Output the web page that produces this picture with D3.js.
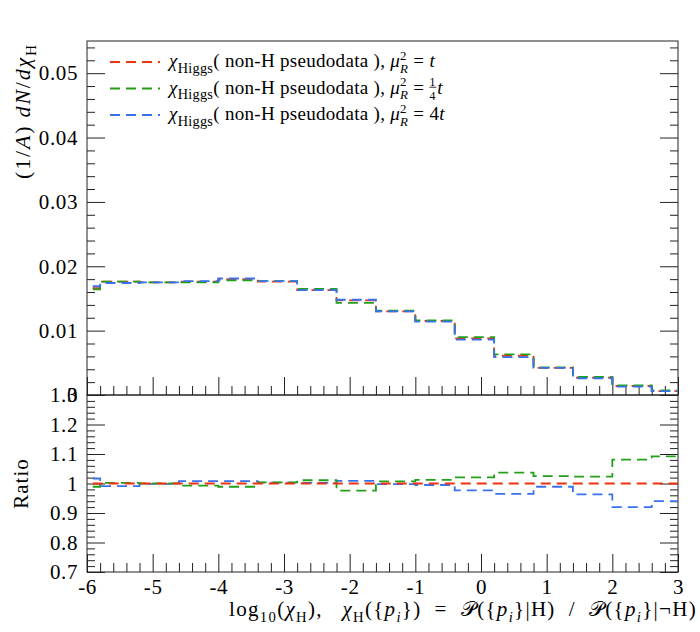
<!DOCTYPE html>
<html>
<head>
<meta charset="utf-8">
<script src="https://cdn.jsdelivr.net/npm/d3@7/dist/d3.min.js"></script>
<style>
  html, body { margin: 0; padding: 0; background: #fff; }
  svg { display: block; }
  svg text { font-family: "Liberation Serif", "DejaVu Serif", serif; white-space: pre; fill: #000; }
</style>
</head>
<body>
<svg id="chart" width="700" height="632"></svg>
<script>
// bin edges in log10(chi_H)
const binEdges = [-6.4, -5.8, -5.2, -4.6, -4.0, -3.4, -2.8, -2.2, -1.6, -1.0, -0.4, 0.2, 0.8, 1.4, 2.0, 2.6, 3.2];

// (1/A) dN/dchi_H, one value per bin
const mainRed   = [0.0166, 0.0176, 0.0175, 0.0176, 0.0180, 0.0176, 0.0163, 0.0147, 0.0130, 0.0115, 0.0088, 0.0061, 0.0042, 0.0027, 0.0014, 0.0006];
const mainGreen = [0.0164, 0.0176, 0.0175, 0.0175, 0.0178, 0.0177, 0.0165, 0.0143, 0.0131, 0.0116, 0.0090, 0.0063, 0.0043, 0.0028, 0.0015, 0.0007];
const mainBlue  = [0.0169, 0.0174, 0.0175, 0.0177, 0.0181, 0.0177, 0.0163, 0.0148, 0.0130, 0.0114, 0.0086, 0.0059, 0.0042, 0.0026, 0.0013, 0.0006];

// ratio to the mu_R^2 = t curve
const ratioRed   = [1, 1, 1, 1, 1, 1, 1, 1, 1, 1, 1, 1, 1, 1, 1, 1];
const ratioGreen = [0.989, 1.002, 1.000, 0.993, 0.989, 1.004, 1.011, 0.976, 1.007, 1.012, 1.021, 1.037, 1.025, 1.023, 1.081, 1.092];
const ratioBlue  = [1.017, 0.991, 0.999, 1.008, 1.008, 1.003, 1.002, 1.009, 0.998, 0.995, 0.977, 0.965, 0.989, 0.963, 0.920, 0.940];

const xTicks = [-6, -5, -4, -3, -2, -1, 0, 1, 2, 3];
const yMainTicks = [0, 0.01, 0.02, 0.03, 0.04, 0.05];
const yRatioTicks = [0.7, 0.8, 0.9, 1.0, 1.1, 1.2, 1.3];

const colors = { red: "#ee3311", green: "#22a01a", blue: "#3a70f2" };

const L = 87, R = 678, T = 41, MID = 395, B = 572;
const FONT = 21;

const svg = d3.select("#chart");

const x = d3.scaleLinear().domain([-6, 3]).range([L, R]);
const yMain = d3.scaleLinear().domain([0, 0.055]).range([MID, T]);
const yRatio = d3.scaleLinear().domain([0.7, 1.3]).range([B, MID]);

const minorX = d3.range(-6, 3.001, 0.2).map(v => +v.toFixed(1)).filter(v => Math.abs(v - Math.round(v)) > 1e-6);
const minorYMain = d3.range(0, 0.0551, 0.002).map(v => +v.toFixed(3)).filter(v => Math.abs(v * 100 - Math.round(v * 100)) > 1e-6);
const minorYRatio = d3.range(0.7, 1.3001, 0.02).map(v => +v.toFixed(2)).filter(v => Math.abs(v * 10 - Math.round(v * 10)) > 1e-6);

// clip paths
const defs = svg.append("defs");
defs.append("clipPath").attr("id", "clipMain")
  .append("rect").attr("x", L).attr("y", T).attr("width", R - L).attr("height", MID - T);
defs.append("clipPath").attr("id", "clipRatio")
  .append("rect").attr("x", L).attr("y", MID).attr("width", R - L).attr("height", B - MID);

function styleAxis(g) {
  g.attr("font-family", null).attr("font-size", null);
  g.select(".domain").remove();
  g.selectAll(".tick line").attr("stroke", "#222").attr("stroke-width", 1);
  g.selectAll(".tick text").attr("font-size", FONT).attr("fill", "#000").attr("letter-spacing", 0.6);
}

function yAxes(scale, major, minor, fmt) {
  svg.append("g").attr("transform", `translate(${L},0)`)
    .call(d3.axisLeft(scale).tickValues(major).tickSize(-18).tickPadding(9).tickFormat(fmt))
    .call(styleAxis);
  svg.append("g").attr("transform", `translate(${L},0)`)
    .call(d3.axisLeft(scale).tickValues(minor).tickSize(-8).tickFormat(""))
    .call(styleAxis);
  svg.append("g").attr("transform", `translate(${R},0)`)
    .call(d3.axisRight(scale).tickValues(major).tickSize(-18).tickFormat(""))
    .call(styleAxis);
  svg.append("g").attr("transform", `translate(${R},0)`)
    .call(d3.axisRight(scale).tickValues(minor).tickSize(-8).tickFormat(""))
    .call(styleAxis);
}

function xAxes(yPos, labels) {
  svg.append("g").attr("transform", `translate(0,${yPos})`)
    .call(d3.axisBottom(x).tickValues(xTicks).tickSize(-18).tickPadding(7)
      .tickFormat(labels ? (d => d < 0 ? "-" + Math.abs(d) : "" + d) : ""))
    .call(styleAxis);
  svg.append("g").attr("transform", `translate(0,${yPos})`)
    .call(d3.axisBottom(x).tickValues(minorX).tickSize(-9).tickFormat(""))
    .call(styleAxis);
}

yAxes(yMain, yMainTicks, minorYMain, d => d === 0 ? "0" : d3.format(".2f")(d));
yAxes(yRatio, yRatioTicks, minorYRatio, d => d === 1 ? "1" : d3.format(".1f")(d));
xAxes(MID, false);
xAxes(B, true);

// frames
svg.append("rect").attr("x", L).attr("y", T).attr("width", R - L).attr("height", MID - T)
  .attr("fill", "none").attr("stroke", "#222").attr("stroke-width", 1);
svg.append("rect").attr("x", L).attr("y", MID).attr("width", R - L).attr("height", B - MID)
  .attr("fill", "none").attr("stroke", "#222").attr("stroke-width", 1);

// histograms as steps
function stepLine(yScale) {
  return d3.line().curve(d3.curveStepAfter).x(d => x(d[0])).y(d => yScale(d[1]));
}
function histPoints(vals) {
  const pts = vals.map((v, i) => [binEdges[i], v]);
  pts.push([binEdges[binEdges.length - 1], vals[vals.length - 1]]);
  return pts;
}
const DASH = "10,6";

const mainG = svg.append("g").attr("clip-path", "url(#clipMain)");
[[mainRed, colors.red], [mainGreen, colors.green], [mainBlue, colors.blue]].forEach(([vals, c]) => {
  mainG.append("path").attr("d", stepLine(yMain)(histPoints(vals)))
    .attr("fill", "none").attr("stroke", c).attr("stroke-width", 1.8).attr("stroke-dasharray", DASH);
});
const ratioG = svg.append("g").attr("clip-path", "url(#clipRatio)");
[[ratioBlue, colors.blue], [ratioGreen, colors.green], [ratioRed, colors.red]].forEach(([vals, c]) => {
  ratioG.append("path").attr("d", stepLine(yRatio)(histPoints(vals)))
    .attr("fill", "none").attr("stroke", c).attr("stroke-width", 1.8).attr("stroke-dasharray", DASH);
});

// rich text: sequence of pieces, each its own <text>, placed by measured width
function rich(g, parts, size, spacing) {
  let cx = 0, prevStart = 0, prevEnd = 0;
  parts.forEach(p => {
    if (p.frac) {
      const fs = size * 0.62;
      const a = g.append("text").attr("x", cx).attr("y", -size * 0.42).attr("font-size", fs).text(p.frac[0]);
      const b = g.append("text").attr("x", cx).attr("y", size * 0.32).attr("font-size", fs).text(p.frac[1]);
      const w = Math.max(a.node().getComputedTextLength(), b.node().getComputedTextLength());
      g.append("line").attr("x1", cx).attr("x2", cx + w + 1).attr("y1", -size * 0.33).attr("y2", -size * 0.33)
        .attr("stroke", "#000").attr("stroke-width", 0.8);
      prevStart = cx; cx += w + 2; prevEnd = cx;
      return;
    }
    const fs = p.fs ? size * p.fs : size;
    const start = p.back ? prevStart : cx + (p.dx || 0);
    const t = g.append("text").attr("x", start).attr("y", (p.dy || 0) * size)
      .attr("font-size", fs).attr("font-style", p.it ? "italic" : null)
      .attr("letter-spacing", spacing || null).text(p.t);
    const w = t.node().getComputedTextLength();
    if (p.back) { cx = Math.max(prevEnd, start + w); }
    else { prevStart = start; prevEnd = start + w; cx = start + w; }
  });
  return cx;
}

// legend
const legendRows = [
  { color: colors.red, rhs: [{ t: "t", it: true }] },
  { color: colors.green, rhs: [{ frac: ["1", "4"] }, { t: "t", it: true }] },
  { color: colors.blue, rhs: [{ t: "4" }, { t: "t", it: true }] }
];
legendRows.forEach((row, i) => {
  const yy = 62 + i * 26.5;
  svg.append("line").attr("x1", 110).attr("x2", 160).attr("y1", yy).attr("y2", yy)
    .attr("stroke", row.color).attr("stroke-width", 1.8).attr("stroke-dasharray", DASH);
  const g = svg.append("g").attr("transform", `translate(169,${yy + 5})`);
  rich(g, [
    { t: "χ", it: true },
    { t: "Higgs", fs: 0.75, dy: 0.3 },
    { t: "( non-H pseudodata ), " },
    { t: "μ", it: true },
    { t: "2", fs: 0.68, dy: -0.38 },
    { t: "R", fs: 0.68, dy: 0.3, it: true, back: true },
    { t: " = " }
  ].concat(row.rhs), 19, 0.3);
});

// x axis label
const xl = svg.append("g");
const xlw = rich(xl, [
  { t: "log" }, { t: "10", fs: 0.7, dy: 0.28 }, { t: "(" }, { t: "χ", it: true }, { t: "H", fs: 0.7, dy: 0.28 }, { t: "),   " },
  { t: "χ", it: true }, { t: "H", fs: 0.7, dy: 0.28 }, { t: "({" }, { t: "p", it: true }, { t: "i", fs: 0.7, dy: 0.28, it: true },
  { t: "})  =  " }, { t: "𝒫" }, { t: "({" }, { t: "p", it: true }, { t: "i", fs: 0.7, dy: 0.28, it: true },
  { t: "}|H)  /  " }, { t: "𝒫" }, { t: "({" }, { t: "p", it: true }, { t: "i", fs: 0.7, dy: 0.28, it: true }, { t: "}|¬H)" }
], FONT, 1.3);
xl.attr("transform", `translate(${697 - xlw},616)`);

// y axis label (main)
const yl = svg.append("g");
const ylw = rich(yl, [
  { t: "(1/" }, { t: "A", it: true }, { t: ") " }, { t: "dN", it: true }, { t: "/" }, { t: "d", it: true },
  { t: "χ", it: true }, { t: "H", fs: 0.7, dy: 0.28 }
], 22, 1.8);
yl.attr("transform", `translate(30,${T + 2 + ylw}) rotate(-90)`);

// ratio label
svg.append("text").attr("transform", `translate(28,${yRatio(1)}) rotate(-90)`)
  .attr("text-anchor", "middle").attr("font-size", FONT).attr("letter-spacing", 1).text("Ratio");
</script>
</body>
</html>
